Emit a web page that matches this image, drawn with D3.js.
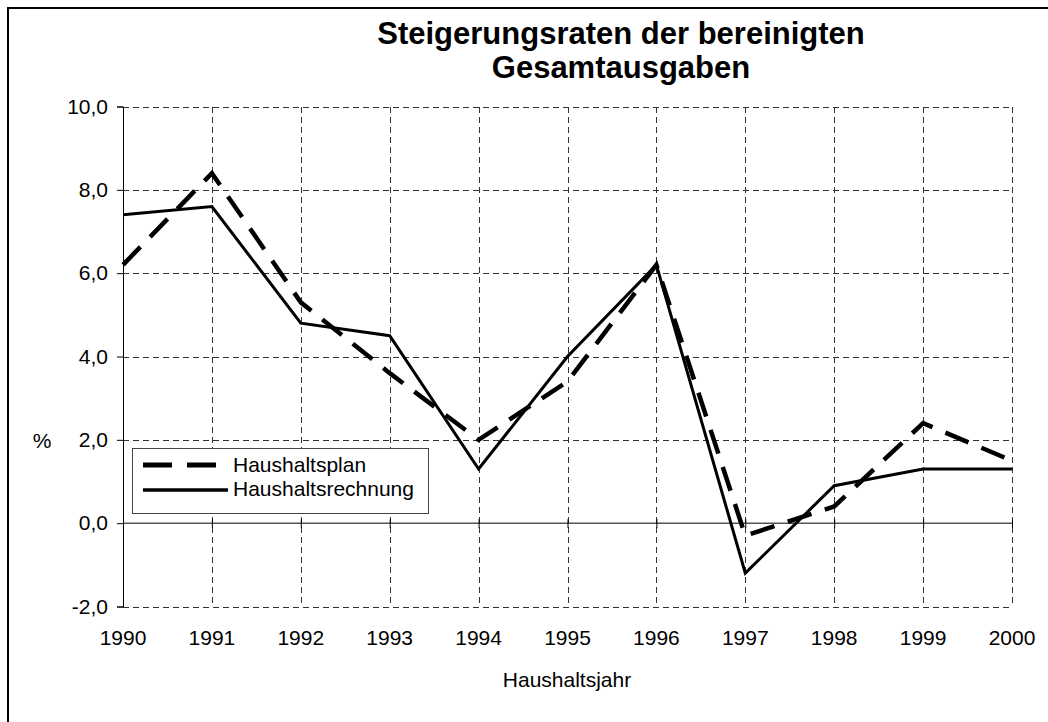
<!DOCTYPE html>
<html>
<head>
<meta charset="utf-8">
<script src="https://cdn.jsdelivr.net/npm/d3@7"></script>
<style>
  body { margin: 0; background: #fff; }
  text { font-family: Arial, "Liberation Sans", sans-serif; fill: #000; }
</style>
</head>
<body>
<svg id="chart" width="1048" height="722"></svg>
<script>
// data
var years = [1990, 1991, 1992, 1993, 1994, 1995, 1996, 1997, 1998, 1999, 2000];
var plan = [6.2, 8.4, 5.3, 3.6, 2.0, 3.4, 6.2, -0.3, 0.4, 2.4, 1.5];
var rechnung = [7.4, 7.6, 4.8, 4.5, 1.3, 4.0, 6.2, -1.2, 0.9, 1.3, 1.3];
var yTicks = [-2, 0, 2, 4, 6, 8, 10];
var seriesNames = ["Haushaltsplan", "Haushaltsrechnung"];

var svg = d3.select("#chart");
var fmt = function (v) { return v.toFixed(1).replace(".", ","); };

// outer frame (runs off the bottom / right edge)
svg.append("rect")
  .attr("x", 8).attr("y", 8).attr("width", 1060).attr("height", 740)
  .attr("fill", "none").attr("stroke", "#000").attr("stroke-width", 2);

var x = d3.scaleLinear().domain([1990, 2000]).range([123, 1012]);
var y = d3.scaleLinear().domain([-2, 10]).range([606.5, 106.5]);

// grid
var grid = svg.append("g").attr("stroke", "#333").attr("stroke-width", 1)
  .attr("stroke-dasharray", "6,4").attr("shape-rendering", "crispEdges");
yTicks.filter(function (d) { return d !== 0; }).forEach(function (d) {
  grid.append("line").attr("x1", x(1990)).attr("x2", x(2000))
    .attr("y1", Math.round(y(d)) + 0.5).attr("y2", Math.round(y(d)) + 0.5);
});
years.slice(1).forEach(function (d) {
  grid.append("line").attr("x1", Math.round(x(d)) + 0.5).attr("x2", Math.round(x(d)) + 0.5)
    .attr("y1", y(10)).attr("y2", y(-2));
});

// y axis
var yAxis = svg.append("g").attr("transform", "translate(" + x(1990) + ",0)")
  .call(d3.axisLeft(y).tickValues(yTicks).tickFormat(fmt).tickSize(6).tickPadding(9));
yAxis.select(".domain").attr("stroke", "#000");
yAxis.selectAll("text").style("font-size", "21px");

// zero line with crossing ticks
var zeroAxis = svg.append("g").attr("transform", "translate(0," + y(0) + ")")
  .call(d3.axisBottom(x).tickValues(years).tickSize(5).tickFormat(""));
zeroAxis.select(".domain").remove();
zeroAxis.selectAll(".tick line").attr("y1", -4);
svg.append("line").attr("x1", x(1990)).attr("x2", x(2000))
  .attr("y1", y(0)).attr("y2", y(0)).attr("stroke", "#000");

// x tick labels under the plot
svg.append("g").selectAll("text").data(years).join("text")
  .attr("x", function (d) { return x(d); }).attr("y", 645)
  .attr("text-anchor", "middle").style("font-size", "21px")
  .text(function (d) { return d; });

svg.append("text").attr("x", 567).attr("y", 687).attr("text-anchor", "middle")
  .style("font-size", "21px").text("Haushaltsjahr");
svg.append("text").attr("x", 42).attr("y", 448).attr("text-anchor", "middle")
  .style("font-size", "21px").text("%");

// title
svg.append("text").attr("x", 621).attr("y", 44).attr("text-anchor", "middle")
  .style("font-size", "31px").style("font-weight", "bold").text("Steigerungsraten der bereinigten");
svg.append("text").attr("x", 621).attr("y", 78).attr("text-anchor", "middle")
  .style("font-size", "31px").style("font-weight", "bold").text("Gesamtausgaben");

// lines
var line = d3.line().x(function (d, i) { return x(years[i]); }).y(function (d) { return y(d); });
svg.append("path").datum(plan).attr("d", line).attr("fill", "none")
  .attr("stroke", "#000").attr("stroke-width", 4.5).attr("stroke-dasharray", "25,14");
svg.append("path").datum(rechnung).attr("d", line).attr("fill", "none")
  .attr("stroke", "#000").attr("stroke-width", 3);

// legend
var lg = svg.append("g");
lg.append("rect").attr("x", 132.5).attr("y", 448.5).attr("width", 296).attr("height", 65)
  .attr("fill", "#fff").attr("stroke", "#444").attr("stroke-width", 1);
lg.append("line").attr("x1", 143).attr("x2", 228).attr("y1", 465).attr("y2", 465)
  .attr("stroke", "#000").attr("stroke-width", 5).attr("stroke-dasharray", "29,15");
lg.append("line").attr("x1", 143).attr("x2", 228).attr("y1", 490).attr("y2", 490)
  .attr("stroke", "#000").attr("stroke-width", 3.5);
lg.selectAll("text.lab").data(seriesNames).join("text").attr("class", "lab")
  .attr("x", 233).attr("y", function (d, i) { return 472 + i * 24; })
  .style("font-size", "21px").text(function (d) { return d; });
</script>
</body>
</html>
